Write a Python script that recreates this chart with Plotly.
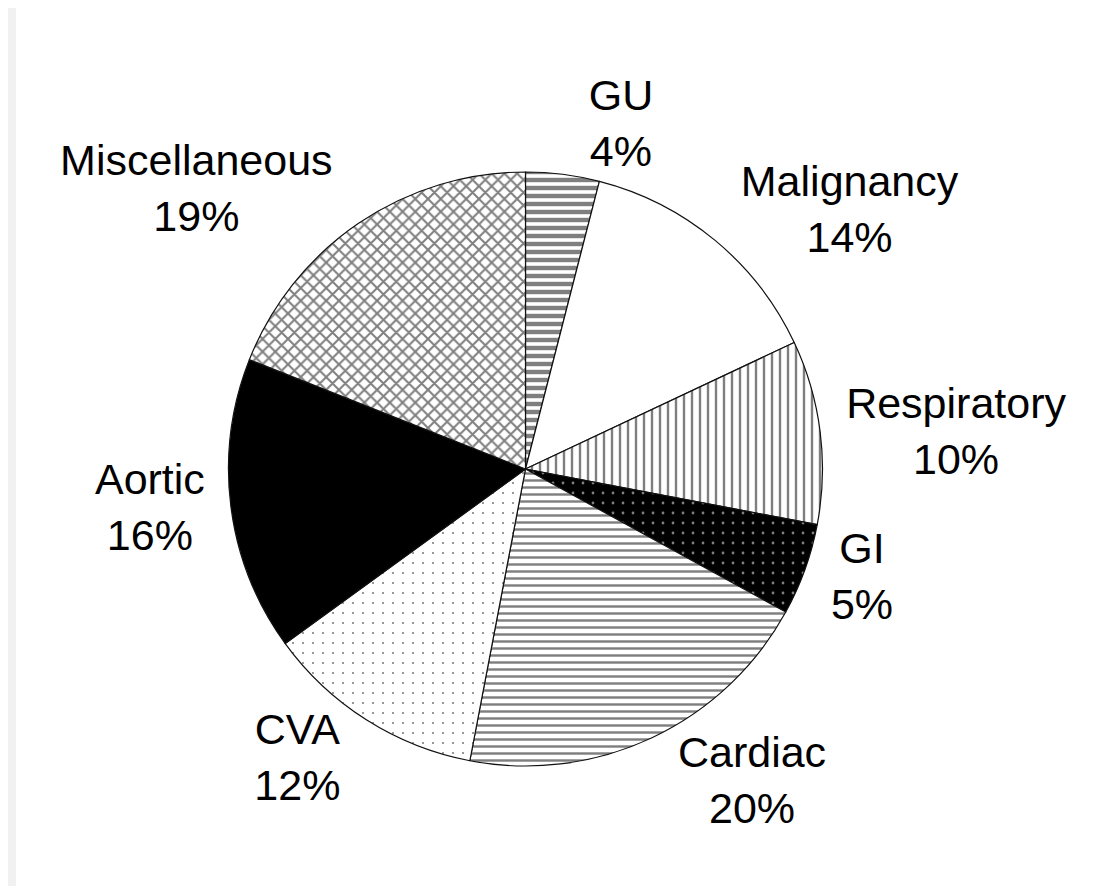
import plotly.graph_objects as go

# Causes of death, clockwise from 12 o'clock
causes = ['GU', 'Malignancy', 'Respiratory', 'GI', 'Cardiac', 'CVA', 'Aortic', 'Miscellaneous']
share = [4, 14, 10, 5, 20, 12, 16, 19]

# black & white hatching per slice
shapes = ['-', '', '|', '.', '-', '.', '', 'x']
fill = ['white', 'white', 'white', 'black', 'white', 'white', 'black', 'white']
ink = ['black', 'black', 'black', 'white', 'black', 'black', 'black', 'black']
spacing = [8, 8, 8, 10, 7, 10, 8, 9]
solidity = [0.55, 0.3, 0.3, 0.06, 0.35, 0.035, 0.3, 0.4]

LABEL_FONT = dict(family='Liberation Sans, Arial', size=43, color='black')
TEMPLATE = '%{label}<br>%{value}%'

# GU label is drawn by a second (transparent) copy of the pie so plotly
# does not push it away from Malignancy with a leader line
alone = ['GU']

fig = go.Figure()
fig.add_trace(go.Pie(
  labels=causes,
  values=share,
  sort=False,
  direction='clockwise',
  rotation=0,
  textposition=['none' if c in alone else 'outside' for c in causes],
  texttemplate=TEMPLATE,
  textfont=LABEL_FONT,
  marker=dict(
    colors=fill,
    line=dict(color='#111111', width=1.2),
    pattern=dict(
      shape=shapes,
      fgcolor=ink,
      bgcolor=fill,
      size=spacing,
      solidity=solidity,
      fillmode='overlay'
    )
  ),
  showlegend=False,
  hoverinfo='label+percent'
))

fig.add_trace(go.Pie(
  labels=causes,
  values=share,
  sort=False,
  direction='clockwise',
  rotation=0,
  textposition=['outside' if c in alone else 'none' for c in causes],
  texttemplate=TEMPLATE,
  textfont=LABEL_FONT,
  marker=dict(colors=['rgba(0,0,0,0)'] * len(causes), line=dict(width=0)),
  showlegend=False,
  hoverinfo='skip'
))

fig.update_layout(
  width=1094,
  height=886,
  margin=dict(l=220, r=279, t=164, b=128),
  paper_bgcolor='white',
  shapes=[dict(
    type='rect', xref='paper', yref='paper', layer='below',
    x0=-220 / 595, x1=-212 / 595,
    y0=-128 / 594, y1=(594 + 164) / 594,
    fillcolor='#f1f1f1', line=dict(width=0)
  )]
)

fig.write_html('out.html')
